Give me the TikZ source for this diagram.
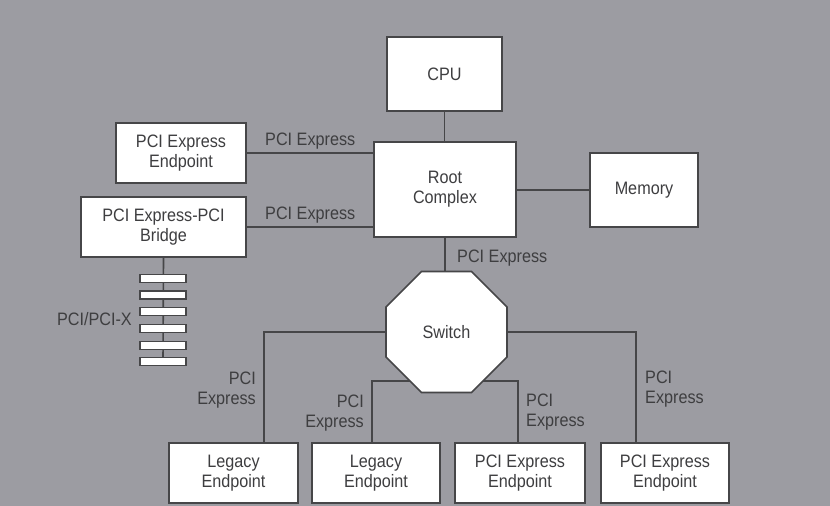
\documentclass[tikz,border=0pt]{standalone}
\usepackage{fontspec}
\setmainfont{Liberation Sans}[FakeStretch=0.9]
\usetikzlibrary{shapes.geometric}
\definecolor{bggray}{RGB}{156,156,162}
\definecolor{ink}{RGB}{62,62,64}
\definecolor{edgec}{RGB}{70,70,72}
\newcommand\diafont{\fontsize{18}{20}\selectfont}
\pgfdeclarelayer{back}
\pgfdeclarelayer{wires}
\pgfsetlayers{back,wires,main}
\begin{document}
\begin{tikzpicture}[x=1pt,y=-1pt,
  box/.style={draw=edgec, fill=white, line width=1.6pt, align=center, inner sep=0pt, font=\diafont, text=ink},
  lbl/.style={text=ink, inner sep=0pt, font=\diafont},
  wire/.style={draw=edgec, line width=1.6pt},
  slot/.style={draw=edgec, fill=white, line width=1.2pt, minimum width=46pt, minimum height=8pt, inner sep=0pt}]
\begin{pgfonlayer}{back}
\fill[bggray] (0,0) rectangle (830,506);
\end{pgfonlayer}
\useasboundingbox (0,0) rectangle (830,506);

% boxes
\node[box, minimum width=115pt, minimum height=74pt] (cpu) at (444.5,74) {CPU};
\node[box, minimum width=142pt, minimum height=95pt] (root) at (445,189.5) {Root\\Complex};
\node[box, minimum width=108pt, minimum height=74pt] (mem) at (644,190) {Memory};
\node[box, minimum width=130pt, minimum height=60pt] (epl) at (181,153) {PCI Express\\Endpoint};
\node[box, minimum width=165pt, minimum height=60pt] (bridge) at (163.5,227) {PCI Express-PCI\\Bridge};
\node[box, regular polygon, regular polygon sides=8, minimum size=131pt] (sw) at (446.5,332) {Switch};
\node[box, minimum width=129pt, minimum height=60pt] (le1) at (233.5,473) {Legacy\\Endpoint};
\node[box, minimum width=128pt, minimum height=60pt] (le2) at (376,473) {Legacy\\Endpoint};
\node[box, minimum width=130pt, minimum height=60pt] (pe3) at (520,473) {PCI Express\\Endpoint};
\node[box, minimum width=128pt, minimum height=60pt] (pe4) at (665,473) {PCI Express\\Endpoint};

% PCI slots
\foreach \i in {1,...,6} {
  \node[slot] (slot\i) at (163,{274.3+4+(\i-1)*16.7}) {};
}

% junction points
\coordinate (swlow) at (446.5,381);
\coordinate (k1) at (264,443);
\coordinate (k2) at (372,443);
\coordinate (k3) at (518,443);
\coordinate (k4) at (636,443);

\begin{pgfonlayer}{wires}
\draw[wire] (cpu) -- (cpu |- root.north);
\draw[wire] (epl.east) -- (epl.east -| root.west);
\draw[wire] (bridge.east) -- (bridge.east -| root.west);
\draw[wire] (mem.west) -- (mem.west -| root.east);
\draw[wire] (root.south) -- (root.south |- sw.center);
\draw[wire] (sw.center) -| (k1);
\draw[wire] (sw.center) -| (k4);
\draw[wire] (swlow) -| (k2);
\draw[wire] (swlow) -| (k3);
\draw[wire] (bridge.south) -- (slot6.center);
\end{pgfonlayer}

% labels
\node[lbl, anchor=base west] (l1) at (265,145) {PCI Express};
\node[lbl, anchor=base west] (l2) at (265,219) {PCI Express};
\node[lbl, anchor=base west] (l3) at (457,262) {PCI Express};
\node[lbl, anchor=base east] (l4) at (132,325) {PCI/PCI-X};
\node[lbl, align=right, anchor=east] (l5) at (256,390) {PCI\\Express};
\node[lbl, align=right, anchor=east] (l6) at (364,413.5) {PCI\\Express};
\node[lbl, align=left, anchor=west] (l7) at (526,412.5) {PCI\\Express};
\node[lbl, align=left, anchor=west] (l8) at (645,389.5) {PCI\\Express};
\end{tikzpicture}
\end{document}
